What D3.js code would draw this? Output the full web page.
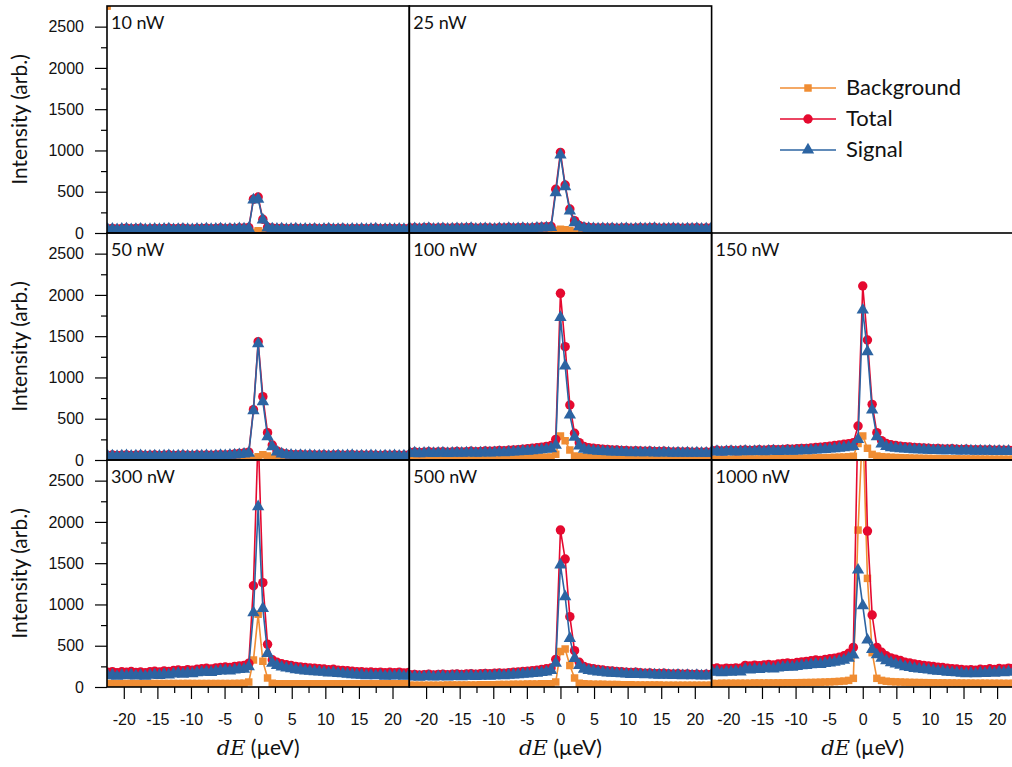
<!DOCTYPE html>
<html>
<head>
<meta charset="utf-8">
<script src="https://cdn.jsdelivr.net/npm/d3@7"></script>
<style>
  body { margin: 0; background: #fff; }
  svg { display: block; font-family: Lato, 'Open Sans', sans-serif; }
  .tick line { stroke: #000; stroke-width: 1.2; }
  .tick text { font-size: 16px; fill: #111; }
</style>
</head>
<body>
<svg id="chart" width="1012" height="767"></svg>
<script>
//data
const dE = [
  -22.4,-21.7,-21.0,-20.3,-19.6,-18.9,-18.2,-17.5,-16.8,-16.1,
  -15.4,-14.7,-14.0,-13.3,-12.6,-11.9,-11.2,-10.5,-9.8,-9.1,
  -8.4,-7.7,-7.0,-6.3,-5.6,-4.9,-4.2,-3.5,-2.8,-2.1,
  -1.4,-0.7,0,0.7,1.4,2.1,2.8,
  3.5,4.2,4.9,5.6,6.3,7.0,7.7,8.4,9.1,9.8,
  10.5,11.2,11.9,12.6,13.3,14.0,14.7,15.4,16.1,16.8,
  17.5,18.2,18.9,19.6,20.3,21.0,21.7,22.4
];

const powerLabels = ['10 nW', '25 nW', '50 nW', '100 nW', '150 nW', '300 nW', '500 nW', '1000 nW'];
const seriesNames = ['Background', 'Total', 'Signal'];
const xTickLabels = [-20, -15, -10, -5, 0, 5, 10, 15, 20];
const yTickLabels = [0, 500, 1000, 1500, 2000, 2500];

// 10 nW
const bg10 = [
  8,9,8,9,9,8,9,9,8,9, 9,8,9,9,8,9,9,8,8,9, 9,9,8,9,9,8,9,9,9,10,
  10,10,28,9,8,
  9,8,9,8,9,9,8,9,8,9, 8,9,9,8,9,9,8,9,8,9, 8,9,9,8,9,9,8,9
];
const tot10 = [
  52,56,50,55,58,51,54,57,50,53, 56,52,55,59,51,54,57,53,50,56, 54,58,52,55,60,53,57,55,62,60,
  66,410,435,167,70,
  60,56,58,53,55,59,52,56,54,57, 51,55,58,52,54,57,50,55,53,56, 52,55,58,51,54,56,52,55,53,54
];
const sig10 = [
  44,47,41,46,49,42,45,48,41,44, 47,43,46,50,42,45,48,44,41,47, 45,49,43,46,51,44,48,46,52,50,
  56,400,410,158,62,
  51,47,49,44,46,50,43,47,45,48, 42,46,49,43,45,48,41,46,44,47, 43,46,49,42,45,47,43,46,44,45
];

// 25 nW
const bg25 = [
  10,11,10,11,11,10,11,11,10,11, 11,10,11,11,10,11,11,10,10,11, 11,11,11,11,12,11,11,12,12,12,
  12,30,45,40,30,18,14,
  12,11,11,11,11,10,11,10,11,11, 10,11,11,10,11,11,10,11,10,11, 10,10,11,10,11,10,10,11
];
const tot25 = [
  60,64,58,63,66,59,62,65,58,61, 64,60,63,67,59,62,65,61,58,64, 62,66,60,63,68,61,65,70,72,75,
  80,529,977,581,291,149,90,
  72,66,63,61,64,60,63,59,62,65, 58,61,64,60,63,66,59,62,60,63, 61,58,62,60,63,59,61,62
];
const sig25 = [
  49,53,47,52,55,48,51,54,47,50, 53,49,52,56,48,51,54,50,47,53, 51,55,49,52,57,50,54,58,60,63,
  68,488,945,561,266,125,76,
  60,55,52,50,53,49,52,48,51,54, 47,50,53,49,52,55,48,51,49,52, 50,47,51,49,52,48,50,51
];

// 50 nW
const bg50 = [
  8,8,8,8,9,8,8,9,8,8, 9,8,8,9,8,8,9,8,8,9, 8,9,9,9,10,10,10,11,12,13,
  14,20,40,65,50,22,13,
  11,11,10,10,10,10,10,10,10,10, 9,9,9,9,9,9,9,9,9,9, 9,9,9,9,9,9,9,9
];
const tot50 = [
  56,60,54,59,62,55,58,61,55,57, 60,56,59,63,55,58,61,57,55,60, 58,62,57,60,65,62,68,72,78,85,
  95,610,1433,767,331,182,110,
  85,74,68,64,66,62,65,61,60,63, 57,60,63,58,61,64,57,60,58,61, 59,56,60,58,61,57,59,60
];
const sig50 = [
  47,51,45,50,53,46,49,52,46,48, 51,47,50,54,46,49,52,48,46,51, 49,53,48,51,56,52,58,61,66,72,
  82,598,1410,706,283,161,98,
  74,63,58,54,56,52,55,51,50,53, 48,51,54,49,52,55,48,51,49,52, 50,47,51,49,52,48,50,51
];

// 100 nW
const bg100 = [
  12,12,12,13,13,13,13,14,14,14, 15,15,15,16,16,17,18,19,20,21, 22,23,24,25,26,28,29,30,32,34,
  36,70,291,234,121,48,40,
  35,32,30,28,26,25,23,22,21,20, 19,18,18,17,17,16,15,15,14,14, 13,13,13,12,12,12,12,12
];
const tot100 = [
  92,97,90,95,99,93,96,100,94,98, 102,97,101,106,100,104,108,105,110,114, 112,118,122,126,132,136,142,148,156,165,
  175,250,2019,1373,666,323,210,
  165,150,142,136,130,128,122,120,116,114, 110,112,108,106,109,104,102,105,100,98, 100,96,99,95,97,94,96,95
];
const sig100 = [
  80,85,78,83,86,80,83,86,80,84, 87,82,86,90,84,87,90,86,90,93, 90,95,98,101,106,108,113,118,124,130,
  138,180,1728,1139,545,275,170,
  130,118,112,108,104,102,98,97,94,93, 90,93,89,88,91,87,86,89,85,84, 87,83,86,83,85,82,84,83
];

// 150 nW
const bg150 = [
  9,9,10,10,10,11,11,12,12,13, 13,14,14,15,16,17,18,19,21,22, 23,24,25,27,28,30,32,34,36,39,
  45,200,291,142,68,48,40,
  36,33,30,28,26,24,22,21,20,19, 18,17,16,15,14,14,13,13,12,12, 11,11,10,10,10,10,9,9
];
const tot150 = [
  112,117,110,115,119,113,117,121,115,119, 124,119,124,129,124,128,133,130,136,141, 140,146,151,156,162,168,175,182,190,198,
  210,412,2108,1454,674,331,235,
  200,185,176,168,162,158,152,150,146,143, 138,140,135,133,136,130,128,131,126,124, 126,121,124,119,121,117,119,118
];
const sig150 = [
  98,103,96,101,105,99,102,106,100,103, 107,102,106,110,104,107,111,107,111,115, 113,118,121,125,129,133,138,144,150,156,
  165,250,1817,1312,606,283,195,
  163,150,143,137,133,130,126,125,122,120, 116,118,114,113,116,111,110,113,109,107, 110,106,109,105,107,104,106,105
];

// 300 nW
const bg300 = [
  42,42,42,42,42,43,42,42,42,42, 42,42,42,42,42,42,42,43,42,42, 42,42,42,42,42,42,42,43,44,46,
  60,327,880,311,110,45,40,
  40,40,40,40,40,40,40,40,40,40, 40,40,40,40,40,40,40,40,40,40, 40,40,40,40,40,40,40,40
];
const tot300 = [
  180,186,172,184,178,188,176,182,174,185, 190,182,195,188,200,206,198,210,204,215, 220,226,218,232,236,242,238,250,256,262,
  287,1227,3064,1264,517,330,300,
  282,270,262,250,244,236,232,226,222,218, 210,214,204,200,196,190,186,184,178,182, 176,180,172,178,174,180,170,176
];
const sig300 = [
  138,144,130,142,136,146,134,140,132,143, 148,140,153,146,158,164,156,168,162,173, 178,184,176,190,194,200,196,207,212,216,
  246,900,2184,953,408,290,262,
  242,230,222,210,204,196,192,186,182,178, 170,174,164,160,156,150,146,144,138,142, 136,140,132,138,134,140,130,136
];

// 500 nW
const bg500 = [
  20,20,21,21,21,22,22,22,23,23, 23,24,24,25,25,26,26,27,28,29, 30,31,32,33,34,35,36,37,38,39,
  40,60,430,460,260,110,45,
  38,36,34,33,32,31,30,29,28,27, 26,25,25,24,24,23,23,22,22,22, 21,21,21,20,20,20,20,20
];
const tot500 = [
  148,153,145,150,155,147,152,156,149,154, 158,152,157,162,156,160,165,161,166,170, 168,174,178,182,188,192,198,204,212,220,
  230,335,1901,1550,852,440,300,
  250,232,222,212,206,198,194,188,184,180, 175,178,172,168,171,165,163,166,160,158, 160,155,158,152,156,150,154,152
];
const sig500 = [
  122,127,119,124,129,121,126,130,123,128, 131,125,130,135,128,132,137,132,137,140, 137,143,146,150,155,158,163,168,175,182,
  200,290,1478,1094,589,347,260,
  215,200,192,183,178,171,168,163,160,157, 153,156,151,148,151,146,144,147,142,141, 143,138,141,136,140,134,138,136
];

// 1000 nW
const bg1000 = [
  44,44,45,45,45,46,46,47,47,48, 48,48,49,49,50,50,51,51,52,53, 54,55,56,58,60,62,65,68,72,80,
  105,1901,3200,1316,416,105,80,
  70,65,62,60,58,56,55,54,53,52, 51,50,50,49,49,48,48,47,47,46, 46,46,45,45,45,44,44,44
];
const tot1000 = [
  222,230,218,228,224,232,226,262,255,264, 258,268,272,266,278,284,290,286,296,304, 310,318,326,322,334,342,350,362,378,408,
  480,3318,4185,1889,872,480,420,
  378,352,336,320,300,292,278,270,262,256, 248,240,236,228,222,218,212,206,210,204, 214,208,220,212,224,218,228,226
];
const sig1000 = [
  178,186,172,184,180,188,182,215,208,218, 212,222,226,220,232,238,244,240,250,258, 262,270,278,274,286,292,300,312,325,350,
  388,1417,985,569,456,390,350,
  318,294,278,264,246,238,226,218,212,206, 198,192,188,180,175,172,166,162,166,160, 170,164,176,168,180,174,184,182
];

//layout
const X0 = 107, Y0 = 6, PW = 302.3, PH = 227;
const COLORS = ['#f08d33', '#e5092f', '#2c64a2'];
const SYMBOLS = [d3.symbolSquare, d3.symbolCircle, d3.symbolTriangle];
const SYM_SIZE = [56, 70, 66];

const panels = [
  { label: powerLabels[0], row: 0, col: 0, series: [bg10, tot10, sig10] },
  { label: powerLabels[1], row: 0, col: 1, series: [bg25, tot25, sig25] },
  { label: powerLabels[2], row: 1, col: 0, series: [bg50, tot50, sig50] },
  { label: powerLabels[3], row: 1, col: 1, series: [bg100, tot100, sig100] },
  { label: powerLabels[4], row: 1, col: 2, series: [bg150, tot150, sig150] },
  { label: powerLabels[5], row: 2, col: 0, series: [bg300, tot300, sig300] },
  { label: powerLabels[6], row: 2, col: 1, series: [bg500, tot500, sig500] },
  { label: powerLabels[7], row: 2, col: 2, series: [bg1000, tot1000, sig1000] }
];

const svg = d3.select('#chart');

const x = d3.scaleLinear().domain([-22.5, 22.5]).range([0, PW]);
const y = d3.scaleLinear().domain([0, 2750]).range([PH, 0]);
const plain = d => String(d);

const line = d3.line()
  .x(d => x(d[0]))
  .y(d => y(d[1]));

panels.forEach((p, pi) => {
  const px = X0 + p.col * PW;
  const py = Y0 + p.row * PH;
  const g = svg.append('g').attr('transform', `translate(${px},${py})`);

  g.append('clipPath').attr('id', 'clip' + pi)
    .append('rect').attr('width', PW).attr('height', PH);

  const plot = g.append('g').attr('clip-path', `url(#clip${pi})`);

  p.series.forEach((vals, si) => {
    const pts = dE.map((e, i) => [e, vals[i]]);
    plot.append('path')
      .datum(pts)
      .attr('fill', 'none')
      .attr('stroke', COLORS[si])
      .attr('stroke-width', 1.6)
      .attr('d', line);
    plot.selectAll('.m' + si)
      .data(pts)
      .join('path')
      .attr('class', 'm' + si)
      .attr('transform', d => `translate(${x(d[0])},${y(d[1])})`)
      .attr('fill', COLORS[si])
      .attr('d', d3.symbol().type(SYMBOLS[si]).size(SYM_SIZE[si]));
  });

  // frame
  g.append('rect')
    .attr('width', PW).attr('height', PH)
    .attr('fill', 'none')
    .attr('stroke', '#000')
    .attr('stroke-width', 1.6);

  g.append('text')
    .attr('x', 4).attr('y', 23)
    .attr('font-size', 18)
    .attr('fill', '#111')
    .text(p.label);

  // y axis on left column
  if (p.col === 0) {
    const ya = g.append('g')
      .call(d3.axisLeft(y).tickValues(yTickLabels).tickFormat(plain).tickSize(12).tickPadding(11));
    ya.select('.domain').remove();
    const ym = g.append('g')
      .call(d3.axisLeft(y).tickValues(d3.range(250, 2750, 500)).tickSize(6).tickFormat(''));
    ym.select('.domain').remove();

    g.append('text')
      .attr('transform', `translate(-80,${PH / 2}) rotate(-90)`)
      .attr('text-anchor', 'middle')
      .attr('font-size', 21)
      .attr('fill', '#111')
      .text('Intensity (arb.)');
  }

  // x axis on bottom row
  if (p.row === 2) {
    const xa = g.append('g')
      .attr('transform', `translate(0,${PH})`)
      .call(d3.axisBottom(x).tickValues(xTickLabels).tickFormat(plain).tickSize(12).tickPadding(15));
    xa.select('.domain').remove();
    const xm = g.append('g')
      .attr('transform', `translate(0,${PH})`)
      .call(d3.axisBottom(x).tickValues(d3.range(-17.5, 20, 5)).tickSize(6).tickFormat(''));
    xm.select('.domain').remove();

    const lab = g.append('text')
      .attr('x', PW / 2).attr('y', PH + 68)
      .attr('text-anchor', 'middle')
      .attr('font-size', 21)
      .attr('fill', '#111');
    lab.append('tspan')
      .attr('font-family', "'DejaVu Serif', serif")
      .attr('font-style', 'italic')
      .text('dE');
    lab.append('tspan').text(' (µeV)');
  }
});

//legend
const legend = svg.append('g').attr('transform', 'translate(780,88)');
seriesNames.forEach((name, i) => {
  const row = legend.append('g').attr('transform', `translate(0,${i * 31})`);
  row.append('line')
    .attr('x1', 0).attr('x2', 56)
    .attr('stroke', COLORS[i]).attr('stroke-width', 1.6);
  row.append('path')
    .attr('transform', 'translate(28,0)')
    .attr('fill', COLORS[i])
    .attr('d', d3.symbol().type(SYMBOLS[i]).size(SYM_SIZE[i]));
  row.append('text')
    .attr('x', 66).attr('y', 7)
    .attr('font-size', 22)
    .attr('fill', '#111')
    .text(name);
});
</script>
</body>
</html>
